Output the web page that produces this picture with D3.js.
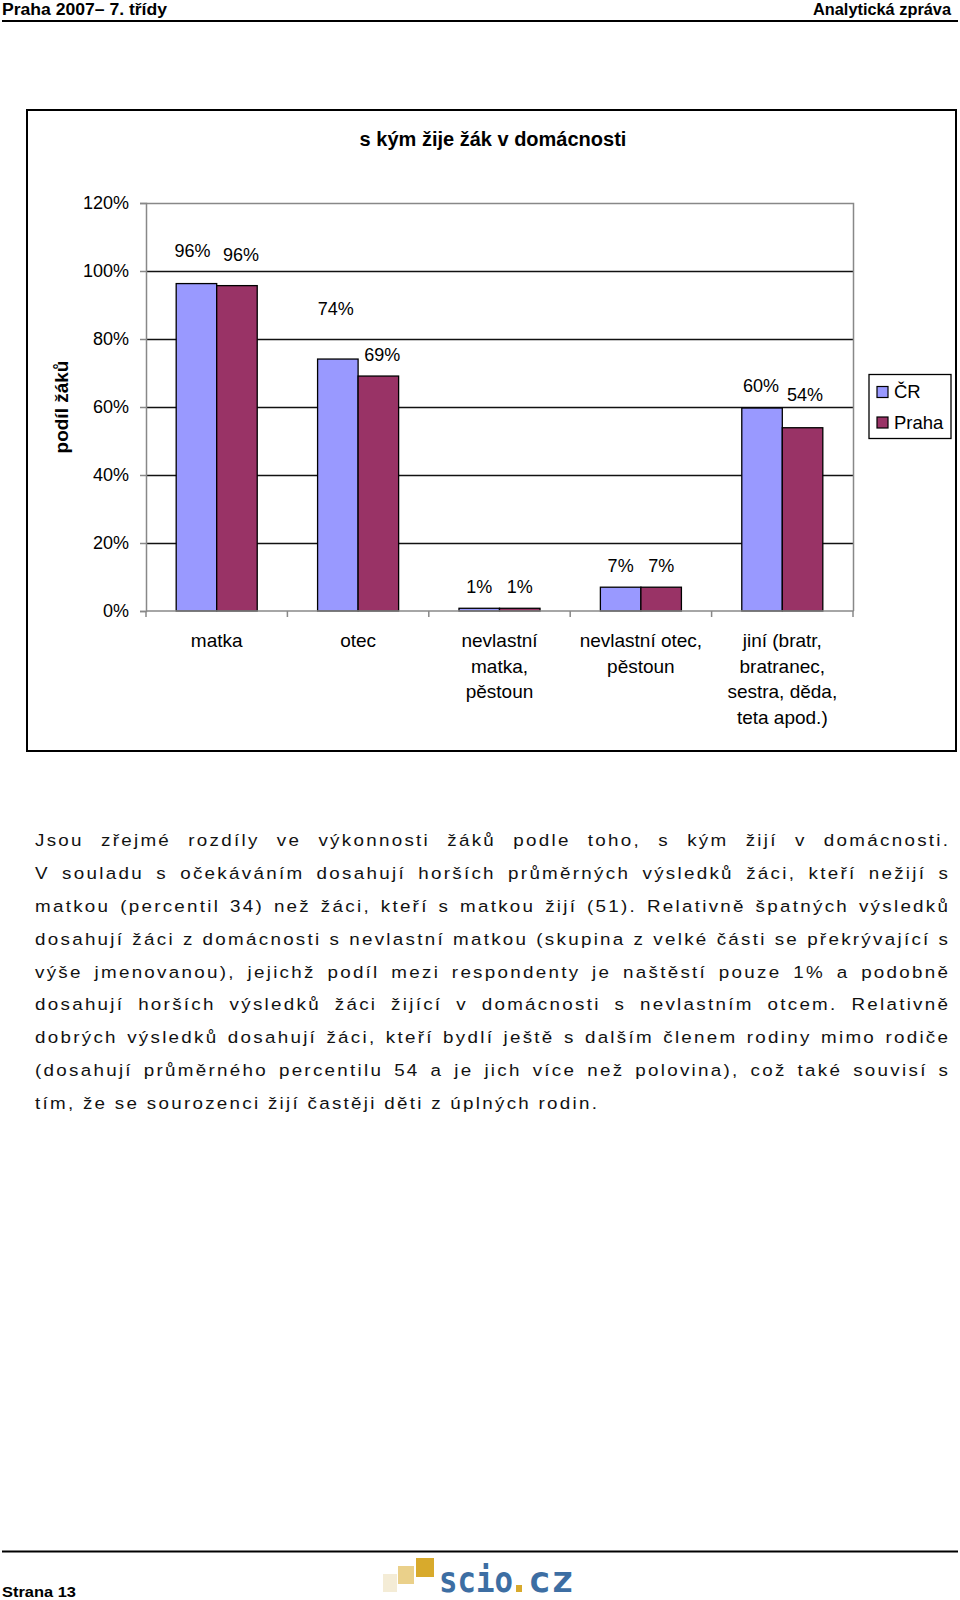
<!DOCTYPE html>
<html><head><meta charset="utf-8">
<script src="https://cdn.jsdelivr.net/npm/d3@7"></script>
<style>body{margin:0;background:#fff}svg{display:block}</style>
</head><body>
<svg id="c" width="960" height="1600"></svg>
<script>
// ---------- data ----------
const categories = ["matka", "otec", "nevlastní matka, pěstoun", "nevlastní otec, pěstoun", "jiní (bratr, bratranec, sestra, děda, teta apod.)"];
const seriesNames = ["ČR", "Praha"];
const crValues = [0.963, 0.741, 0.008, 0.070, 0.597];
const prahaValues = [0.957, 0.691, 0.008, 0.070, 0.539];
const yTicks = [0, 0.2, 0.4, 0.6, 0.8, 1.0, 1.2];
const chartTitle = "s kým žije žák v domácnosti";
const yTitle = "podíl žáků";
const headerLeft = "Praha 2007– 7. třídy";
const headerRight = "Analytická zpráva";
const footerText = "Strana 13";
const paragraphLines = [
  "Jsou zřejmé rozdíly ve výkonnosti žáků podle toho, s kým žijí v domácnosti.",
  "V souladu s očekáváním dosahují horších průměrných výsledků žáci, kteří nežijí s",
  "matkou (percentil 34) než žáci, kteří s matkou žijí (51). Relativně špatných výsledků",
  "dosahují žáci z domácnosti s nevlastní matkou (skupina z velké části se překrývající s",
  "výše jmenovanou), jejichž podíl mezi respondenty je naštěstí pouze 1% a podobně",
  "dosahují horších výsledků žáci žijící v domácnosti s nevlastním otcem. Relativně",
  "dobrých výsledků dosahují žáci, kteří bydlí ještě s dalším členem rodiny mimo rodiče",
  "(dosahují průměrného percentilu 54 a je jich více než polovina), což také souvisí s",
  "tím, že se sourozenci žijí častěji děti z úplných rodin."
];

// ---------- layout ----------
const FONT = "'Liberation Sans', Arial, Helvetica, sans-serif";
const colors = {"ČR": "#9999FF", "Praha": "#993366"};
// manual label nudges (dx, dy from bar top), as in the source chart
const labelNudge = {
  "ČR":    [[-4, -33], [-2, -50], [0, -21.5], [0, -21.5], [-1, -22.5]],
  "Praha": [[4, -31], [4, -21], [0, -21.5], [0, -21.5], [2.5, -33.5]]
};

const svg = d3.select("#c");
svg.append("rect").attr("width", 960).attr("height", 1600).attr("fill", "#fff");

// header
svg.append("text").attr("x", 2).attr("y", 14.5).attr("font-family", FONT).attr("font-weight", "bold")
  .attr("font-size", 16).attr("textLength", 165).attr("lengthAdjust", "spacingAndGlyphs").text(headerLeft);
svg.append("text").attr("x", 813).attr("y", 14.5).attr("font-family", FONT).attr("font-weight", "bold")
  .attr("font-size", 16).attr("textLength", 138).attr("lengthAdjust", "spacingAndGlyphs").text(headerRight);
svg.append("line").attr("x1", 2).attr("x2", 958).attr("y1", 21).attr("y2", 21).attr("stroke", "#000").attr("stroke-width", 2);

// chart frame
svg.append("rect").attr("x", 27).attr("y", 110).attr("width", 929).attr("height", 641)
  .attr("fill", "#fff").attr("stroke", "#000").attr("stroke-width", 2);

svg.append("text").attr("x", 493).attr("y", 146).attr("text-anchor", "middle").attr("font-family", FONT)
  .attr("font-weight", "bold").attr("font-size", 20).text(chartTitle);

const PL = 146, PR = 853, PT = 203, PB = 611;
const x = d3.scaleBand().domain(categories).range([PL, PR]).paddingInner(0).paddingOuter(0);
const x1 = d3.scaleBand().domain(seriesNames).range([0, x.bandwidth()]).paddingInner(0).paddingOuter(0.745);
const y = d3.scaleLinear().domain([0, 1.2]).range([PB, PT]);

const g = svg.append("g").attr("font-family", FONT);

// gridlines
g.append("g").selectAll("line").data(yTicks.filter(t => t > 0 && t < 1.2)).join("line")
  .attr("x1", PL).attr("x2", PR).attr("y1", d => Math.round(y(d)) + 0.5).attr("y2", d => Math.round(y(d)) + 0.5)
  .attr("stroke", "#111").attr("stroke-width", 1.3);
// plot border (top, right)
g.append("path").attr("d", `M${PL},${PT + 0.5}H${PR + 0.5}V${PB}`).attr("fill", "none").attr("stroke", "#888").attr("stroke-width", 1.5);

// y axis
const yAxis = d3.axisLeft(y).tickValues(yTicks).tickFormat(d3.format(".0%")).tickSize(6).tickPadding(11);
const ya = g.append("g").attr("transform", `translate(${PL},0)`).call(yAxis);
ya.select(".domain").attr("stroke", "#888").attr("stroke-width", 1.5);
ya.selectAll(".tick line").attr("stroke", "#888").attr("stroke-width", 1.5);
ya.selectAll(".tick text").attr("font-size", 18).attr("font-family", FONT).attr("fill", "#000");

// bars
const rows = categories.map((c, i) => ({cat: c, i, vals: [
  {s: "ČR", v: crValues[i]}, {s: "Praha", v: prahaValues[i]}]}));
const groups = g.append("g").selectAll("g").data(rows).join("g")
  .attr("transform", d => `translate(${x(d.cat)},0)`);
groups.selectAll("rect").data(d => d.vals).join("rect")
  .attr("x", d => x1(d.s)).attr("width", x1.bandwidth())
  .attr("y", d => y(d.v)).attr("height", d => y(0) - y(d.v))
  .attr("fill", d => colors[d.s]).attr("stroke", "#000").attr("stroke-width", 1.3);

// x axis line + boundary ticks
g.append("line").attr("x1", PL).attr("x2", PR + 0.5).attr("y1", PB).attr("y2", PB).attr("stroke", "#888").attr("stroke-width", 1.5);
const bounds = categories.map(c => x(c)).concat([PR]);
g.append("g").selectAll("line").data(bounds).join("line")
  .attr("x1", d => d).attr("x2", d => d).attr("y1", PB).attr("y2", PB + 6).attr("stroke", "#888").attr("stroke-width", 1.5);

// data labels
groups.each(function(d) {
  d3.select(this).selectAll("text.lab").data(d.vals).join("text").attr("class", "lab")
    .attr("x", v => x1(v.s) + x1.bandwidth() / 2 + labelNudge[v.s][d.i][0])
    .attr("y", v => y(v.v) + labelNudge[v.s][d.i][1])
    .attr("dy", "0.35em").attr("text-anchor", "middle").attr("font-size", 18)
    .text(v => d3.format(".0%")(v.v));
});

// category labels with wrapping
const catG = g.append("g").attr("font-size", 19).attr("text-anchor", "middle");
categories.forEach(c => {
  const cx = x(c) + x.bandwidth() / 2;
  const t = catG.append("text").attr("x", cx).attr("y", 647);
  const words = c.split(" ");
  let line = [];
  let ts = t.append("tspan").attr("x", cx).attr("dy", 0);
  words.forEach(w => {
    line.push(w);
    ts.text(line.join(" "));
    if (ts.node().getComputedTextLength() > 126 && line.length > 1) {
      line.pop(); ts.text(line.join(" "));
      line = [w];
      ts = t.append("tspan").attr("x", cx).attr("dy", 25.5).text(w);
    }
  });
});

// y axis title
svg.append("text").attr("transform", "translate(68,407) rotate(-90)").attr("text-anchor", "middle")
  .attr("font-family", FONT).attr("font-weight", "bold").attr("font-size", 19).text(yTitle);

// legend
const lg = svg.append("g").attr("font-family", FONT);
lg.append("rect").attr("x", 869).attr("y", 374.5).attr("width", 82).attr("height", 64)
  .attr("fill", "#fff").attr("stroke", "#000").attr("stroke-width", 1.3);
seriesNames.forEach((s, i) => {
  const cy = 392 + i * 30.5;
  lg.append("rect").attr("x", 877).attr("y", cy - 5.5).attr("width", 11).attr("height", 11)
    .attr("fill", colors[s]).attr("stroke", "#000").attr("stroke-width", 1.2);
  lg.append("text").attr("x", 894).attr("y", cy).attr("dy", "0.35em").attr("font-size", 18.5).text(s);
});

// paragraph (justified) - horizontally widened glyphs to mimic the wide source face
const SX = 1.14;
const PX0 = 35, PX1 = 948, PY0 = 846, PLH = 32.9, LAST_W = 562;
const pg = svg.append("g").attr("transform", `translate(${PX0},0) scale(${SX},1)`)
  .attr("font-family", FONT).attr("font-size", 16.5).attr("fill", "#111");
const W = (PX1 - PX0) / SX, LW = LAST_W / SX;
const lastLine = paragraphLines[paragraphLines.length - 1];
const tmp = pg.append("text").attr("x", 0).attr("y", -100).text(lastLine);
const w0 = tmp.node().getComputedTextLength();
tmp.remove();
const ls = Math.max(0, (LW - w0) / (lastLine.length - 1));
paragraphLines.forEach((line, i) => {
  const yy = PY0 + i * PLH;
  if (i === paragraphLines.length - 1) {
    pg.append("text").attr("x", 0).attr("y", yy).attr("letter-spacing", ls).text(line);
    return;
  }
  const words = line.split(" ");
  const nodes = words.map(w => pg.append("text").attr("y", yy).attr("letter-spacing", ls).text(w));
  const widths = nodes.map(n => n.node().getComputedTextLength() - ls);
  const total = d3.sum(widths);
  const gap = (W - total) / (words.length - 1);
  let cx = 0;
  nodes.forEach((n, k) => { n.attr("x", cx); cx += widths[k] + gap; });
});

// footer
svg.append("line").attr("x1", 2).attr("x2", 958).attr("y1", 1551.5).attr("y2", 1551.5).attr("stroke", "#000").attr("stroke-width", 2);
svg.append("text").attr("x", 2).attr("y", 1597).attr("font-family", FONT).attr("font-weight", "bold")
  .attr("font-size", 15).attr("textLength", 74).attr("lengthAdjust", "spacingAndGlyphs").text(footerText);

// logo
const logo = svg.append("g");
logo.append("rect").attr("x", 383).attr("y", 1574).attr("width", 14).attr("height", 18).attr("fill", "#f4ecd6");
logo.append("rect").attr("x", 398).attr("y", 1566).attr("width", 16).attr("height", 18).attr("fill", "#ead08a");
logo.append("rect").attr("x", 416).attr("y", 1558).attr("width", 18).attr("height", 19).attr("fill", "#d8aa2c");
logo.append("rect").attr("x", 516).attr("y", 1585).attr("width", 6).attr("height", 7).attr("fill", "#d8aa2c");
const logoFont = "'DejaVu Sans Mono', monospace";
[["scio", 439, 74], ["cz", 528, 46]].forEach(([t, lx, lw]) => {
  logo.append("text").attr("x", lx).attr("y", 1592).attr("font-family", logoFont).attr("font-weight", "bold")
    .attr("font-size", 36).attr("textLength", lw).attr("lengthAdjust", "spacingAndGlyphs").attr("fill", "#3d6ea3").text(t);
});
</script>
</body></html>
